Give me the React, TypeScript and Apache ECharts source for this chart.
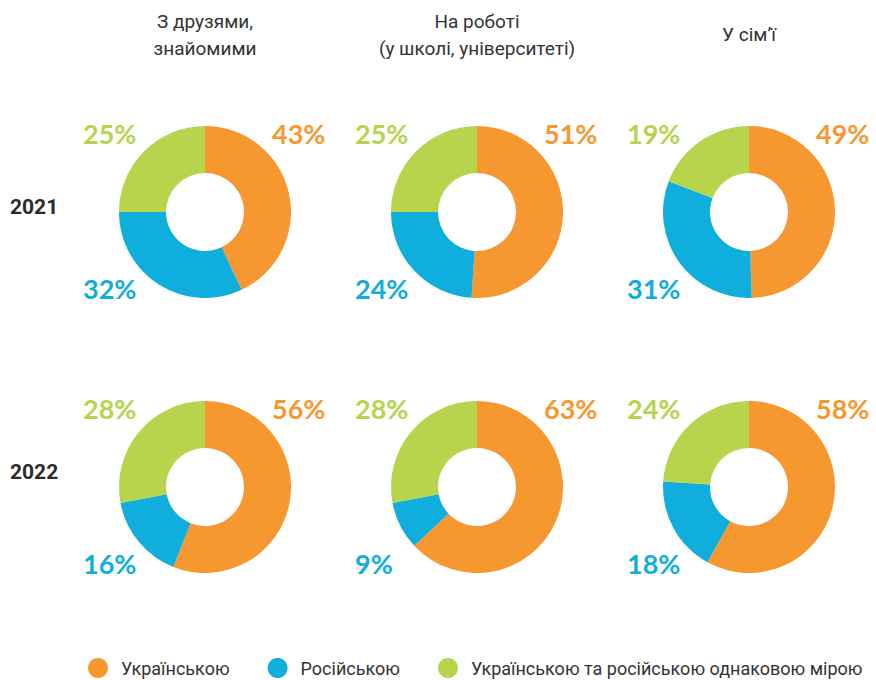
import React, { useEffect, useRef } from "react";
import * as echarts from "echarts";

const categories = ["Українською", "Російською", "Українською та російською однаковою мірою"];
const colors = ["#F6972F", "#10AEDC", "#B7D44C"];
const columnTitles = ["З друзями,\nзнайомими", "На роботі\n(у школі, університеті)", "У сім’ї"];
const yearLabels = ["2021", "2022"];

const friends2021 = [43, 32, 25];
const work2021 = [51, 24, 25];
const family2021 = [49, 31, 19];
const friends2022 = [56, 16, 28];
const work2022 = [63, 9, 28];
const family2022 = [58, 18, 24];

const rows = [
  [friends2021, work2021, family2021],
  [friends2022, work2022, family2022],
];

const colX = [205, 477, 749];
const rowY = [212, 487];
const yearLabelY = [207, 472];

export default function App() {
  const ref = useRef<HTMLDivElement>(null);
  useEffect(() => {
    if (!ref.current) return;
    const chart = echarts.init(ref.current, null, { renderer: "svg" });
    const series: any[] = [];
    rows.forEach((row, ri) => {
      row.forEach((vals, ci) => {
        const cx = colX[ci];
        const cy = rowY[ri];
        series.push({
          type: "pie",
          name: `${yearLabels[ri]} ${columnTitles[ci]}`,
          center: [cx, cy],
          radius: [39, 86],
          startAngle: 90,
          clockwise: true,
          avoidLabelOverlap: false,
          label: {
            show: true,
            position: "outside",
            formatter: "{c}%",
            color: "inherit",
            fontFamily: "Lato",
            fontWeight: "bold",
            fontSize: 27,
          },
          labelLine: { show: false },
          emphasis: { disabled: true },
          labelLayout: (p: any) => {
            if (p.dataIndex === 0) {
              return { x: cx + 67, y: cy - 79, align: "left", verticalAlign: "middle" };
            }
            if (p.dataIndex === 2) {
              return { x: cx - 122, y: cy - 79, align: "left", verticalAlign: "middle" };
            }
            return { x: cx - 122, y: cy + 76, align: "left", verticalAlign: "middle" };
          },
          data: vals.map((v, i) => ({
            name: categories[i],
            value: v,
            itemStyle: { color: colors[i] },
            label: { color: colors[i] },
          })),
        });
      });
    });

    const graphics: any[] = [];
    columnTitles.forEach((t, ci) => {
      graphics.push({
        type: "text",
        x: colX[ci],
        y: 34.5,
        style: {
          text: t,
          textAlign: "center",
          textVerticalAlign: "middle",
          fontFamily: "Roboto",
          fontWeight: "normal",
          fontSize: 19,
          lineHeight: 27,
          fill: "#333333",
        },
      });
    });
    yearLabels.forEach((t, ri) => {
      graphics.push({
        type: "text",
        x: 10,
        y: yearLabelY[ri],
        style: {
          text: t,
          textAlign: "left",
          textVerticalAlign: "middle",
          fontFamily: "Roboto",
          fontWeight: "bold",
          fontSize: 21,
          fill: "#2b2b2b",
        },
      });
    });

    chart.setOption({
      animation: false,
      backgroundColor: "#ffffff",
      color: colors,
      legend: {
        data: categories,
        left: 88,
        top: 658,
        padding: 0,
        icon: "circle",
        itemWidth: 20,
        itemHeight: 20,
        itemGap: 38,
        selectedMode: false,
        textStyle: {
          fontFamily: "Roboto",
          fontSize: 18,
          color: "#333333",
          padding: [0, 0, 0, 8],
        },
      },
      graphic: graphics,
      series,
    });
    return () => chart.dispose();
  }, []);
  return (
    <div
      ref={ref}
      style={{ position: "fixed", left: 0, top: 0, width: 876, height: 680 }}
    />
  );
}
